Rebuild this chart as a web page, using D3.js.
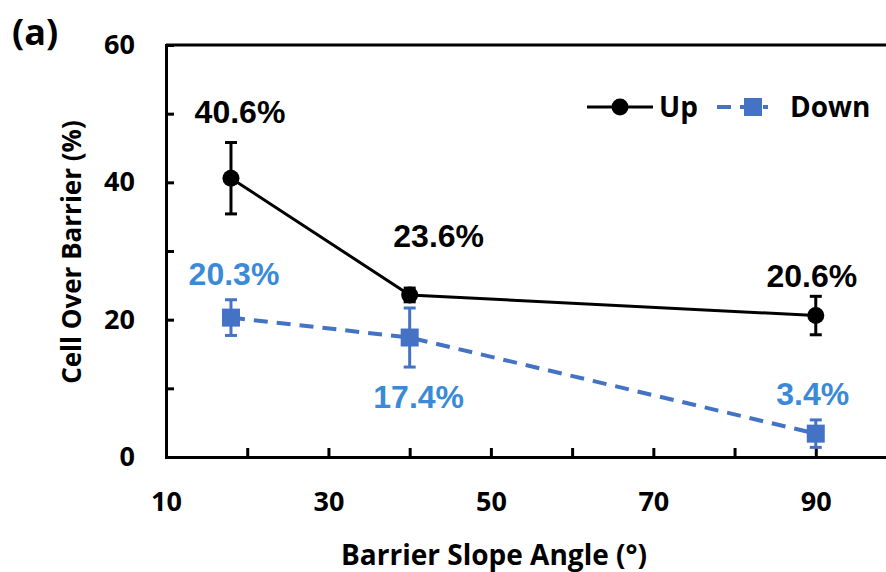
<!DOCTYPE html>
<html>
<head>
<meta charset="utf-8">
<script src="https://cdn.jsdelivr.net/npm/d3@7/dist/d3.min.js"></script>
<style>
  html, body { margin: 0; padding: 0; background: #fff; overflow: hidden; }
  svg { display: block; }
</style>
</head>
<body>
<div id="chart"></div>
<script>
// data
const angles = [18, 40, 90];
const upValues = [40.6, 23.6, 20.6];
const upErrors = [5.2, 1.0, 2.8];
const downValues = [20.3, 17.4, 3.4];
const downErrors = [2.6, 4.3, 2.0];
const upLabels = ['40.6%', '23.6%', '20.6%'];
const downLabels = ['20.3%', '17.4%', '3.4%'];
const xTickLabels = [10, 30, 50, 70, 90];
const xMinorTicks = [20, 30, 40, 50, 60, 70, 80, 90];
const yTickLabels = [0, 20, 40, 60];
const yMinorTicks = [10, 20, 30, 40, 50];

// label placement relative to each point [dx, dy]
const upLabelOffsets = [[9, -55], [29, -48], [-4, -29]];
const downLabelOffsets = [[3, -33], [9, 70], [-3, -29]];

const W = 886, H = 572;
const MARGIN = { top: 45, left: 166 };
const plotW = 731, plotH = 412;

const BLACK = '#000';
const BLUE = '#4472C4';
const BLUE_TEXT = '#3B8AD8';
const FONT = '"Open Sans", "Noto Sans", sans-serif';
const LABEL_FONT = '"Liberation Sans", Arial, sans-serif';

const svg = d3.select('#chart').append('svg')
  .attr('width', W)
  .attr('height', H);

const g = svg.append('g')
  .attr('transform', `translate(${MARGIN.left}, ${MARGIN.top})`);

const x = d3.scaleLinear().domain([10, 100]).range([0, plotW]);
const y = d3.scaleLinear().domain([0, 60]).range([plotH, 0]);

// frame (top and right edges)
g.append('path')
  .attr('d', `M0,0H${plotW}V${plotH}`)
  .attr('fill', 'none')
  .attr('stroke', BLACK)
  .attr('stroke-width', 3);

// x axis: inward ticks, then labels
const xTicksG = g.append('g')
  .attr('transform', `translate(0, ${plotH})`)
  .call(d3.axisBottom(x).tickValues(xMinorTicks).tickSize(-9).tickFormat(''));
const xLabelsG = g.append('g')
  .attr('transform', `translate(0, ${plotH})`)
  .call(d3.axisBottom(x).tickValues(xTickLabels).tickSize(0).tickPadding(35).tickFormat(d3.format('d')));

const yTicksG = g.append('g')
  .call(d3.axisLeft(y).tickValues(yMinorTicks).tickSize(-8).tickFormat(''));
const yLabelsG = g.append('g')
  .call(d3.axisLeft(y).tickValues(yTickLabels).tickSize(0).tickPadding(31).tickFormat(d3.format('d')));

[xTicksG, yTicksG, xLabelsG, yLabelsG].forEach(a => {
  a.select('.domain').attr('stroke', BLACK).attr('stroke-width', 3);
  a.selectAll('.tick line').attr('stroke', BLACK).attr('stroke-width', 3);
});
[xLabelsG, yLabelsG].forEach(a => {
  a.selectAll('.tick text')
    .attr('fill', BLACK)
    .style('font-family', FONT)
    .style('font-weight', 700)
    .style('font-size', '27px');
});

// axis titles
svg.append('text')
  .attr('x', 494)
  .attr('y', 565)
  .attr('text-anchor', 'middle')
  .style('font-family', FONT)
  .style('font-weight', 700)
  .style('font-size', '28px')
  .text('Barrier Slope Angle (°)');

svg.append('text')
  .attr('transform', 'translate(81, 252) rotate(-90)')
  .attr('text-anchor', 'middle')
  .style('font-family', FONT)
  .style('font-weight', 700)
  .style('font-size', '26px')
  .text('Cell Over Barrier (%)');

svg.append('text')
  .attr('x', 12)
  .attr('y', 45)
  .style('font-family', FONT)
  .style('font-weight', 700)
  .style('font-size', '36px')
  .text('(a)');

const upData = angles.map((a, i) => ({ a, v: upValues[i], e: upErrors[i], label: upLabels[i], off: upLabelOffsets[i] }));
const downData = angles.map((a, i) => ({ a, v: downValues[i], e: downErrors[i], label: downLabels[i], off: downLabelOffsets[i] }));

const line = d3.line().x(d => x(d.a)).y(d => y(d.v));

// down series
g.append('path')
  .datum(downData)
  .attr('d', line)
  .attr('fill', 'none')
  .attr('stroke', BLUE)
  .attr('stroke-width', 4)
  .attr('stroke-dasharray', '14,9');

function errorBars(data, color) {
  const eb = g.append('g').selectAll('g').data(data).join('g')
    .attr('stroke', color)
    .attr('stroke-width', 3);
  eb.append('line')
    .attr('x1', d => x(d.a)).attr('x2', d => x(d.a))
    .attr('y1', d => y(d.v + d.e)).attr('y2', d => y(d.v - d.e));
  eb.append('line')
    .attr('x1', d => x(d.a) - 6).attr('x2', d => x(d.a) + 6)
    .attr('y1', d => y(d.v + d.e)).attr('y2', d => y(d.v + d.e));
  eb.append('line')
    .attr('x1', d => x(d.a) - 6).attr('x2', d => x(d.a) + 6)
    .attr('y1', d => y(d.v - d.e)).attr('y2', d => y(d.v - d.e));
}

errorBars(downData, BLUE);
g.append('g').selectAll('rect').data(downData).join('rect')
  .attr('x', d => x(d.a) - 9)
  .attr('y', d => y(d.v) - 9)
  .attr('width', 18)
  .attr('height', 18)
  .attr('fill', BLUE);

// up series
g.append('path')
  .datum(upData)
  .attr('d', line)
  .attr('fill', 'none')
  .attr('stroke', BLACK)
  .attr('stroke-width', 3);

errorBars(upData, BLACK);
g.append('g').selectAll('circle').data(upData).join('circle')
  .attr('cx', d => x(d.a))
  .attr('cy', d => y(d.v))
  .attr('r', 8.5)
  .attr('fill', BLACK);

// value labels
function valueLabels(data, color) {
  g.append('g').selectAll('text').data(data).join('text')
    .attr('x', d => x(d.a) + d.off[0])
    .attr('y', d => y(d.v) + d.off[1])
    .attr('text-anchor', 'middle')
    .attr('fill', color)
    .style('font-family', LABEL_FONT)
    .style('font-weight', 700)
    .style('font-size', '32px')
    .text(d => d.label);
}
valueLabels(upData, BLACK);
valueLabels(downData, BLUE_TEXT);

// legend
const legend = svg.append('g').attr('transform', 'translate(587, 107)');
legend.append('line')
  .attr('x1', 0).attr('x2', 66).attr('y1', 0).attr('y2', 0)
  .attr('stroke', BLACK).attr('stroke-width', 3);
legend.append('circle')
  .attr('cx', 33).attr('cy', 0).attr('r', 8.5).attr('fill', BLACK);
legend.append('text')
  .attr('x', 72).attr('y', 10)
  .style('font-family', FONT).style('font-weight', 700).style('font-size', '28px')
  .text('Up');
legend.append('line')
  .attr('x1', 130).attr('x2', 181).attr('y1', 0).attr('y2', 0)
  .attr('stroke', BLUE).attr('stroke-width', 4)
  .attr('stroke-dasharray', '14,9');
legend.append('rect')
  .attr('x', 157).attr('y', -9).attr('width', 18).attr('height', 18)
  .attr('fill', BLUE);
legend.append('text')
  .attr('x', 203).attr('y', 10)
  .style('font-family', FONT).style('font-weight', 700).style('font-size', '28px')
  .text('Down');
</script>
</body>
</html>
